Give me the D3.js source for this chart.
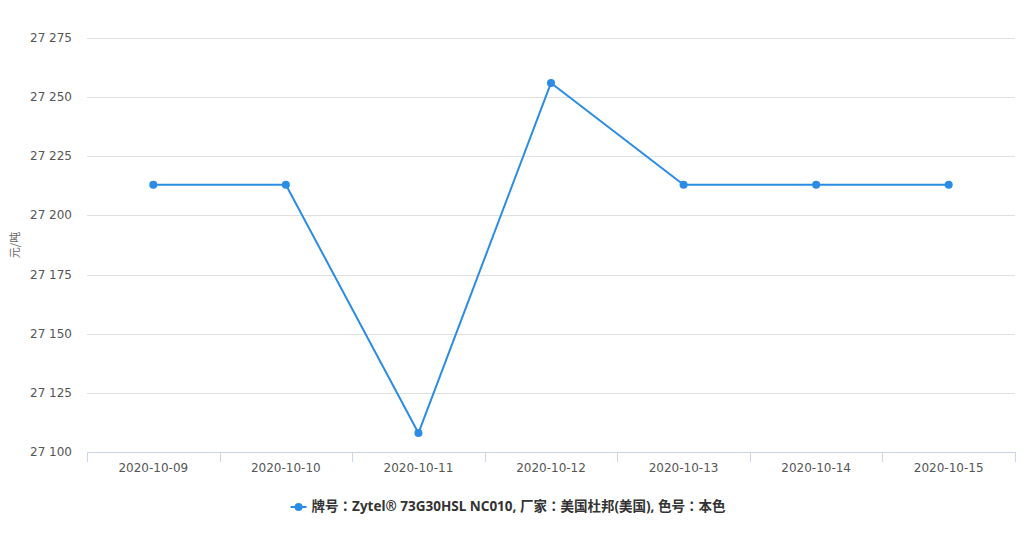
<!DOCTYPE html>
<html><head><meta charset="utf-8">
<script src="https://cdn.jsdelivr.net/npm/d3@7"></script>
<style>
body{margin:0;background:#fff;}
svg{display:block;font-family:"DejaVu Sans","Noto Sans CJK SC",sans-serif;}
</style></head>
<body>
<svg id="c" width="1027" height="539"></svg>
<script>
const categories = ["2020-10-09","2020-10-10","2020-10-11","2020-10-12","2020-10-13","2020-10-14","2020-10-15"];
const values = [27213, 27213, 27108, 27256, 27213, 27213, 27213];
const yTicks = [27100, 27125, 27150, 27175, 27200, 27225, 27250, 27275];
const seriesName = "牌号：Zytel® 73G30HSL NC010, 厂家：美国杜邦(美国), 色号：本色";
const yTitle = "元/吨";

const svg = d3.select("#c");
const L = 87, R = 1015, T = 38, B = 452;
const x = d3.scaleBand().domain(categories).range([L, R]);
const y = d3.scaleLinear().domain([27100, 27275]).range([B, T]);
const color = "#2b8ce6";
const fmt = v => d3.format(",")(v).replace(/,/g, " ");

// grid
svg.append("g").selectAll("line").data(yTicks.slice(1)).join("line")
  .attr("x1", L).attr("x2", R)
  .attr("y1", d => Math.round(y(d)) + 0.5).attr("y2", d => Math.round(y(d)) + 0.5)
  .attr("stroke", "#e0e0e0").attr("stroke-width", 1);

// y labels
svg.append("g").selectAll("text").data(yTicks).join("text")
  .attr("x", 72).attr("y", d => y(d) + 4)
  .attr("text-anchor", "end").attr("font-size", 12).attr("fill", "#555")
  .text(fmt);

// y title
svg.append("text").attr("transform", "translate(19,245) rotate(-90)")
  .attr("text-anchor", "middle").attr("font-size", 11).attr("fill", "#666")
  .attr("font-family", "'Noto Sans CJK SC',sans-serif")
  .text(yTitle);

// x axis
const xa = svg.append("g");
xa.append("line").attr("x1", L).attr("x2", R).attr("y1", B + 0.5).attr("y2", B + 0.5)
  .attr("stroke", "#ccd6eb");
const bounds = categories.map(c => x(c)).concat([R]);
xa.selectAll("line.tk").data(bounds).join("line").attr("class", "tk")
  .attr("x1", d => Math.round(d) + 0.5).attr("x2", d => Math.round(d) + 0.5)
  .attr("y1", B).attr("y2", B + 10).attr("stroke", "#ccd6eb");
xa.selectAll("text").data(categories).join("text")
  .attr("x", d => x(d) + x.bandwidth() / 2).attr("y", 472)
  .attr("text-anchor", "middle").attr("font-size", 12).attr("fill", "#555")
  .text(d => d);

// line
const line = d3.line().x((d, i) => x(categories[i]) + x.bandwidth() / 2).y(d => y(d));
svg.append("path").datum(values).attr("d", line)
  .attr("fill", "none").attr("stroke", color).attr("stroke-width", 2)
  .attr("stroke-linejoin", "round").attr("stroke-linecap", "round");
svg.append("g").selectAll("circle").data(values).join("circle")
  .attr("cx", (d, i) => x(categories[i]) + x.bandwidth() / 2).attr("cy", d => y(d))
  .attr("r", 4).attr("fill", color);

// legend
const lg = svg.append("g");
const lt = lg.append("text").attr("x", 313).attr("y", 511)
  .attr("font-size", 13.5).attr("font-weight", "bold").attr("fill", "#333")
  .attr("font-family", "'Noto Sans','Noto Sans CJK JP',sans-serif")
  .text(seriesName);
const tw = lt.node().getComputedTextLength();
const total = 21 + tw;
const sx = 508 - total / 2;
lt.attr("x", sx + 21);
lg.append("line").attr("x1", sx).attr("x2", sx + 16).attr("y1", 507).attr("y2", 507)
  .attr("stroke", color).attr("stroke-width", 2);
lg.append("circle").attr("cx", sx + 8).attr("cy", 507).attr("r", 4).attr("fill", color);
</script>
</body></html>
